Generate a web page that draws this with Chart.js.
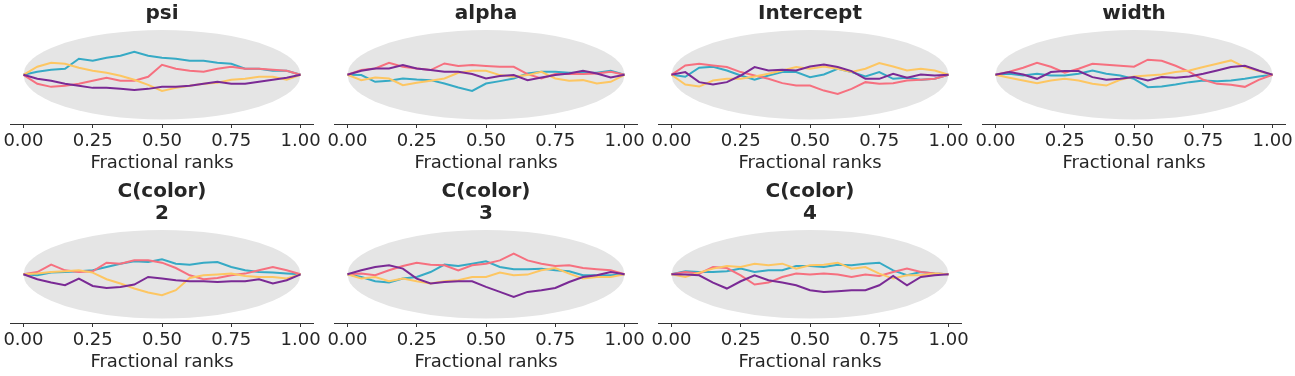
<!DOCTYPE html>
<html>
<head>
<meta charset="utf-8">
<script src="https://cdn.jsdelivr.net/npm/chart.js@4.4.1/dist/chart.umd.min.js"></script>
<style>
  html, body { margin: 0; padding: 0; background: #fff; }
  #wrap { position: relative; width: 1295px; height: 376px; overflow: hidden; }
  #wrap canvas { position: absolute; }
</style>
</head>
<body>
<div id="wrap"></div>
<script>
// fractional ranks where the chain curves were read
const RANKS = [0, 0.05, 0.1, 0.15, 0.2, 0.25, 0.3, 0.35, 0.4, 0.45, 0.5,
               0.55, 0.6, 0.65, 0.7, 0.75, 0.8, 0.85, 0.9, 0.95, 1];
const TICKS = [0, 0.25, 0.5, 0.75, 1];
const TICK_LABELS = ['0.00', '0.25', '0.50', '0.75', '1.00'];

// envelope (half height of the grey band)
const BAND_X = [0, 0.005, 0.01, 0.02, 0.035, 0.05, 0.075, 0.1, 0.15, 0.2, 0.25, 0.3, 0.35, 0.4, 0.45, 0.5,
                0.55, 0.6, 0.65, 0.7, 0.75, 0.8, 0.85, 0.9, 0.925, 0.95, 0.965, 0.98, 0.99, 0.995, 1];
const BAND_HALF = [0, 6.3, 8.9, 12.5, 16.4, 19.4, 23.4, 26.7, 31.8, 35.6, 38.5, 40.8, 42.4, 43.6, 44.3, 44.5,
                   44.3, 43.6, 42.4, 40.8, 38.5, 35.6, 31.8, 26.7, 23.4, 19.4, 16.4, 12.5, 8.9, 6.3, 0];

// ECDF difference per chain (pink, cyan, yellow, purple)
const psiPink   = [0, -9, -12, -11, -9, -6, -3, -6, -6, -2, 10, 6, 4, 3, 6, 8, 6, 6, 5, 4, 0];
const psiCyan   = [0, 3, 5, 6, 16, 14, 17, 19, 23, 19, 17, 16, 14, 14, 12, 11, 6, 6, 4, 4, 0];
const psiYellow = [0, 8, 12, 11, 7, 4, 2, -1, -5, -10, -16, -13, -11, -9, -8, -5, -4, -2, -2, -5, 0];
const psiPurple = [0, -4, -6, -9, -11, -13, -13, -14, -15, -14, -12, -12, -11, -9, -7, -9, -9, -7, -5, -3, 0];

const alphaPink   = [0, 4.7, 6.3, 12, 8, 6.3, 4.7, 11.3, 8.7, 9.7, 8.7, 8, 8, 0.7, -3.7, 0.7, 0.7, 0.7, 1.3, 3, 0];
const alphaCyan   = [0, -0.3, -7, -6, -3.7, -4.7, -5.3, -8.7, -12.7, -16, -8.7, -6.3, -3.7, 1.3, 3, 3, 2, 2, 2, 4, 0];
const alphaYellow = [0, -5.3, -2.7, -3.7, -10.3, -8, -6, -3.7, 2, 4, 4, -0.3, -2, -0.3, 3, -3.7, -6, -5.3, -8.7, -7, 0];
const alphaPurple = [0, 4, 6.3, 6.3, 9.7, 6.3, 4.7, 3, 3, 0.7, -3.7, -1.3, -0.3, -5.3, -2.7, -0.3, 1.3, 4, 1.3, -2.7, 0];

const interceptPink   = [0, 9.3, 11, 9.3, 7.7, 2.7, -0.7, -4, -8.3, -10.7, -10.7, -15.7, -19, -14, -7.3, -9, -8.3, -5.7, -5, -4, 0];
const interceptCyan   = [0, -2, 7, 8, 4.3, -0.7, -5, -0.7, 2.7, 2.7, -2.3, 0.3, 6, 2.7, -1.7, 2.7, -4, -3, -5, -4, 0];
const interceptYellow = [0, -9.7, -11.7, -5.7, -4, -4, -1.7, 1, 4.3, 7.7, 6, 8.3, 6, 2.7, 6, 11.7, 8.3, 4.3, 6, 4.3, 0];
const interceptPurple = [0, 2.7, -7.3, -9.7, -7.3, -0.7, 7.7, 4.3, 5, 4.3, 8.3, 10.3, 7.7, 3.7, -4, -4, 1, -3, 0.3, -0.7, 0];

const widthPink   = [0, 3, 7, 12, 8, 2, 6, 11, 10, 9, 8, 15, 14, 9, 3, -5, -9, -10, -12, -5, 0];
const widthCyan   = [0, 1, -0.7, 1, -0.7, -0.7, 1, 4.3, 1, -0.7, -4, -12.3, -11.7, -9.7, -7.3, -5.7, -6.3, -5.7, -4, -1.7, 0];
const widthYellow = [0, -3, -5.7, -8.3, -5.7, -4, -5.7, -9, -10.7, -5, -1.7, -0.7, 0.3, 2.7, 4.3, 7.7, 11, 14.3, 7.7, 3.7, 0];
const widthPurple = [0, 2.7, 0.3, -4, 2.7, 3.7, 3.7, -2.3, -5, -4, -2.3, -5.7, -2.3, -3, -1.7, 1, 4.3, 7.7, 9, 4.3, 0];

const color2Pink   = [0, 2.3, 9.7, 4, 2.3, 3, 11.7, 10.7, 14, 14, 11.7, 6.3, -1, -5, -3.7, -1, 0.7, 4, 7.3, 4, 0];
const color2Cyan   = [0, -1, 1.7, 2.3, 3, 4, 7.3, 10.7, 13, 12.3, 15, 10.7, 9.7, 11.7, 12.3, 7.3, 4, 2.3, 1.7, 0.7, 0];
const color2Yellow = [0, 0.7, 2.3, 3, 4, 1.7, -5, -9.3, -14.3, -18.3, -21, -16, -3.7, -1, -0.3, 0.7, -1.7, -2.7, -2.7, -4.3, 0];
const color2Purple = [0, -5, -8.3, -11, -4.3, -11.7, -13.7, -12.7, -10.3, -2.7, -4.3, -6, -7, -7, -7.7, -7, -7, -5, -9.3, -6, 0];

const color3Pink   = [0, 0.7, -1, 4, 8.3, 11.7, 9.7, 9, 4, 9, 10.7, 14, 20.7, 14, 10.7, 8.3, 9, 6.3, 5, 4, 0];
const color3Cyan   = [0, -2.7, -7, -8.3, -4.3, -2.7, 2.3, 9.7, 8.3, 10.7, 13, 7.3, 5, 5, 5.7, 4, 3, -1, -1, -1, 0];
const color3Yellow = [0, -4.3, -2.7, -7, -4.3, -7, -9.3, -7, -6, -2.7, -2.7, 1.7, -1, -0.3, 4, 6.3, 0.7, -4.3, -2.7, -2.7, 0];
const color3Purple = [0, 4, 7.3, 9, 5.7, -4.3, -9.3, -7.7, -7, -7, -12.7, -17.7, -22.7, -17.7, -16, -13.7, -7.7, -2.7, -1, 2.3, 0];

const color4Pink   = [0, 2.3, 0.7, 7.3, 6.3, -1, -10.3, -8.3, -2.7, 0.7, -0.3, 0.7, -0.3, -2.7, -0.3, -1.7, 2.3, 5.7, 2.3, 0.7, 0];
const color4Cyan   = [0, 3, 2.3, 2.3, 3, 5.7, 2.3, 4, 4, 8.3, 8.3, 7.3, 9.7, 9, 10.7, 11.7, 4, -1, 2.3, 0.7, 0];
const color4Yellow = [0, -2.7, 1.7, 5.7, 8.3, 7.3, 10.7, 9, 10.7, 5.7, 9, 9.7, 11.7, 5.7, 7.3, 0.7, -4.3, -1, -1, 0.7, 0];
const color4Purple = [0, -0.3, -1, -8.3, -14.3, -7, -1, -6, -8.3, -11, -16, -17.7, -17, -16, -16, -11, -1.7, -11, -2.7, -1, 0];

const TITLES = [['psi'], ['alpha'], ['Intercept'], ['width'],
                ['C(color)', '2'], ['C(color)', '3'], ['C(color)', '4']];
const SERIES = [
  [psiPink, psiCyan, psiYellow, psiPurple],
  [alphaPink, alphaCyan, alphaYellow, alphaPurple],
  [interceptPink, interceptCyan, interceptYellow, interceptPurple],
  [widthPink, widthCyan, widthYellow, widthPurple],
  [color2Pink, color2Cyan, color2Yellow, color2Purple],
  [color3Pink, color3Cyan, color3Yellow, color3Purple],
  [color4Pink, color4Cyan, color4Yellow, color4Purple]
];
const CHAIN_COLORS = ['#f6707f', '#36aac5', '#fdc662', '#7a2a95'];
const CHAIN_ORDER = [3, 4, 2, 1];   // purple on top

// canvas placement: left, top, height
const SLOTS = [[0, 0, 176], [324, 0, 176], [648, 0, 176], [972, 0, 176],
               [0, 178, 197], [324, 178, 197], [648, 178, 197]];
const FONT = 'DejaVu Sans';
const INK = '#262626';

const wrap = document.getElementById('wrap');

TITLES.forEach(function(title, p) {
  const slot = SLOTS[p];
  const cv = document.createElement('canvas');
  cv.width = 324;
  cv.height = slot[2];
  cv.style.left = slot[0] + 'px';
  cv.style.top = slot[1] + 'px';
  wrap.appendChild(cv);

  const twoLines = title.length > 1;
  const datasets = [
    {
      data: BAND_X.map((x, i) => ({x: x, y: -BAND_HALF[i]})),
      borderWidth: 0, borderColor: 'rgba(0,0,0,0)', pointRadius: 0, fill: false, order: 10
    },
    {
      data: BAND_X.map((x, i) => ({x: x, y: BAND_HALF[i]})),
      borderWidth: 0, borderColor: 'rgba(0,0,0,0)', pointRadius: 0,
      fill: '-1', backgroundColor: '#e5e5e5', order: 10
    }
  ];
  SERIES[p].forEach(function(vals, c) {
    datasets.push({
      data: RANKS.map((x, i) => ({x: x, y: vals[i]})),
      borderColor: CHAIN_COLORS[c],
      borderWidth: 2,
      pointRadius: 0,
      tension: 0,
      fill: false,
      order: CHAIN_ORDER[c]
    });
  });

  new Chart(cv, {
    type: 'line',
    data: {datasets: datasets},
    options: {
      responsive: false,
      animation: false,
      devicePixelRatio: 1,
      layout: {padding: {left: 10, right: 10, top: 0, bottom: 0}},
      plugins: {
        legend: {display: false},
        tooltip: {enabled: false},
        title: {
          display: true,
          text: title,
          color: INK,
          font: {family: FONT, size: 20, weight: 'bold', lineHeight: 21.8 / 20},
          padding: twoLines ? {top: 2.9, bottom: 1.1} : {top: 3.3, bottom: 0.5}
        }
      },
      scales: {
        x: {
          type: 'linear',
          min: -0.047,
          max: 1.047,
          afterBuildTicks: function(scale) {
            scale.ticks = TICKS.map(v => ({value: v}));
          },
          afterFit: function(scale) {
            scale.height = 52;
          },
          ticks: {
            callback: (v, i) => TICK_LABELS[i],
            color: INK,
            font: {family: FONT, size: 18},
            padding: 3,
            maxRotation: 0,
            autoSkip: false
          },
          grid: {display: true, drawOnChartArea: false, drawTicks: true, tickLength: 4, color: '#333', lineWidth: 1},
          border: {display: true, color: '#333', width: 1},
          title: {
            display: true,
            text: 'Fractional ranks',
            color: INK,
            font: {family: FONT, size: 18},
            padding: {top: 0, bottom: 1.5}
          }
        },
        y: {display: false, min: -48.95, max: 48.95}
      }
    }
  });
});
</script>
</body>
</html>
